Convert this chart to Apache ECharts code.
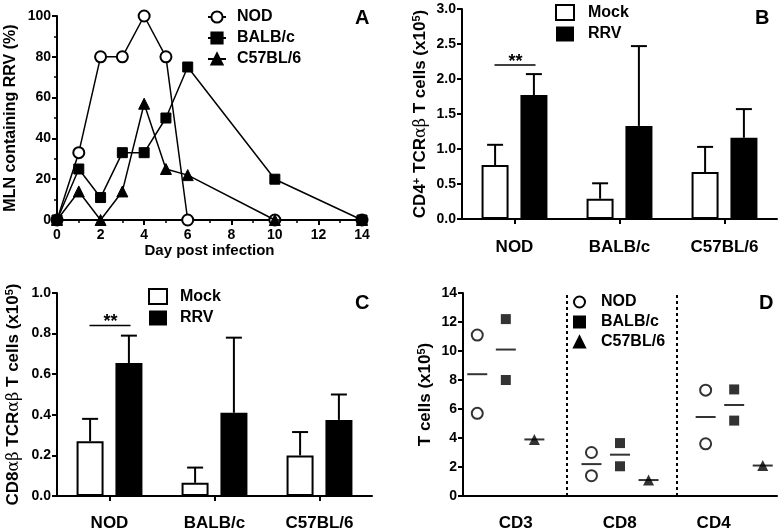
<!DOCTYPE html>
<html><head><meta charset="utf-8">
<script src="https://cdn.jsdelivr.net/npm/echarts@6/dist/echarts.min.js"></script>
<style>html,body{margin:0;padding:0;background:#fff}#c{width:782px;height:532px}</style>
</head><body><div id="c"></div>
<script>
// ---- Panel A data ----
const days = [0, 1, 2, 3, 4, 5, 6, 10, 14];
const nodA = [0, 33, 80, 80, 100, 80, 0, 0, 0];
const balbA = [0, 25, 11, 33, 33, 50, 75, 20, 0];
const c57A = [0, 14, 0, 14, 57, 25, 22, 0, 0];

// ---- Panel B / C data ----
const strains = ['NOD', 'BALB/c', 'C57BL/6'];
const cd4Mock = [0.77, 0.29, 0.67];
const cd4MockErr = [0.29, 0.22, 0.36];
const cd4Rrv = [1.77, 1.33, 1.16];
const cd4RrvErr = [0.30, 1.14, 0.41];
const sigB = [2.2];        // '**' level over NOD
const cd8Mock = [0.27, 0.065, 0.20];
const cd8MockErr = [0.11, 0.075, 0.115];
const cd8Rrv = [0.655, 0.41, 0.375];
const cd8RrvErr = [0.135, 0.37, 0.125];
const sigC = [0.84];

// ---- Panel D data ----
const subsets = ['CD3', 'CD8', 'CD4'];
const nodD = [[11.1, 5.7], [3.0, 1.4], [7.3, 3.6]];
const balbD = [[12.2, 8.0], [3.65, 2.05], [7.35, 5.2]];
const c57D = [[3.9], [1.1], [2.1]];

const FF = '"Liberation Sans", Arial, sans-serif';
const T = (s) => ({color: '#000', fontWeight: 'bold', fontFamily: FF, fontSize: s});
const axLine = {show: true, onZero: false, lineStyle: {color: '#000', width: 2}};
const axTick = {show: true, length: 5, lineStyle: {color: '#000', width: 2}};
const minor = {show: true, splitNumber: 2, length: 3, lineStyle: {color: '#000', width: 1.5}};
const rich = {
  b: {fontFamily: FF, fontWeight: 'bold', fontSize: 17, color: '#000', lineHeight: 19},
  g: {fontFamily: '"DejaVu Serif", "Liberation Serif", serif', fontSize: 16, color: '#000', lineHeight: 19},
  s: {fontFamily: FF, fontWeight: 'bold', fontSize: 11, color: '#000', verticalAlign: 'top', lineHeight: 19}
};

function errItem(offset) {
  return function (p, api) {
    const i = api.value(0), v = api.value(1), e = api.value(2);
    const a = api.coord([i, v]), b = api.coord([i, v + e]);
    const x = a[0] + offset;
    return {type: 'group', children: [
      {type: 'line', shape: {x1: x, y1: a[1], x2: x, y2: b[1]}, style: {stroke: '#000', lineWidth: 2}},
      {type: 'line', shape: {x1: x - 8, y1: b[1], x2: x + 8, y2: b[1]}, style: {stroke: '#000', lineWidth: 2}}
    ]};
  };
}
function sigItem(p, api) {
  const c = api.coord([api.value(0), api.value(1)]);
  return {type: 'group', children: [
    {type: 'line', shape: {x1: c[0] - 20, y1: c[1], x2: c[0] + 21, y2: c[1]}, style: {stroke: '#000', lineWidth: 1.5}},
    {type: 'text', x: c[0] + 1, y: c[1] + 6, style: {text: '**', font: 'bold 18px ' + FF, fill: '#000', align: 'center', verticalAlign: 'bottom'}}
  ]};
}

const barMock = {color: '#fff', borderColor: '#000', borderWidth: 2};
const barRrv = {color: '#000'};

const dPts = (arr, k) => {
  const out = [];
  arr.forEach((vals, g) => vals.forEach(v => out.push([g * 4 + k, v])));
  return out;
};
const dMeans = (arr, k) => arr.map((vals, g) => [g * 4 + k, vals.reduce((s, x) => s + x, 0) / vals.length]);
const dLabelPos = [2.35, 5.99, 9.28];

const option = {
  animation: false,
  backgroundColor: '#fff',
  title: [
    {text: 'A', left: 355, top: 8, padding: 0, textStyle: T(20)},
    {text: 'B', left: 755, top: 8, padding: 0, textStyle: T(20)},
    {text: 'C', left: 355, top: 293, padding: 0, textStyle: T(20)},
    {text: 'D', left: 759, top: 293, padding: 0, textStyle: T(20)}
  ],
  grid: [
    {left: 57, top: 16, width: 305, height: 204},
    {left: 462, top: 9, width: 315, height: 210},
    {left: 57, top: 293, width: 315, height: 210},
    {left: 463, top: 293, width: 314, height: 210}
  ],
  legend: [
    {orient: 'vertical', left: 207, top: 9, padding: 0, itemGap: 5, itemWidth: 18, itemHeight: 14,
      data: ['NOD', 'BALB/c', 'C57BL/6'], textStyle: Object.assign(T(16), {padding: [0, 0, 0, 6], lineHeight: 16})},
    {orient: 'vertical', left: 555, top: 4, padding: 0, itemGap: 5, itemWidth: 18, itemHeight: 15, icon: 'rect',
      data: ['Mock', 'RRV'], textStyle: Object.assign(T(16), {padding: [0, 0, 0, 9], lineHeight: 16})},
    {orient: 'vertical', left: 148, top: 288, padding: 0, itemGap: 5, itemWidth: 18, itemHeight: 15, icon: 'rect',
      data: ['Mock', 'RRV'], textStyle: Object.assign(T(16), {padding: [0, 0, 0, 8], lineHeight: 16})},
    {orient: 'vertical', left: 573, top: 294, padding: 0, itemGap: 4, itemWidth: 11, itemHeight: 11,
      data: [{name: 'NOD', icon: 'circle'}, {name: 'BALB/c', icon: 'rect'}, {name: 'C57BL/6', icon: 'triangle'}],
      textStyle: Object.assign(T(16), {padding: [0, 0, 0, 11], lineHeight: 16})}
  ],
  xAxis: [
    {gridIndex: 0, type: 'value', min: 0, max: 14, interval: 2, axisLine: axLine, axisTick: axTick, minorTick: minor,
      splitLine: {show: false}, axisLabel: Object.assign(T(14), {margin: 8}),
      name: 'Day post infection', nameLocation: 'middle', nameGap: 21, nameTextStyle: T(15)},
    {gridIndex: 1, type: 'category', data: strains, axisLine: axLine, axisTick: Object.assign({alignWithLabel: true}, axTick),
      axisLabel: Object.assign(T(17), {margin: 20})},
    {gridIndex: 2, type: 'category', data: strains, axisLine: axLine, axisTick: Object.assign({alignWithLabel: true}, axTick),
      axisLabel: Object.assign(T(17), {margin: 19})},
    {gridIndex: 3, type: 'value', min: 0.5, max: 11.5, axisLine: axLine, axisTick: {show: false}, splitLine: {show: false},
      axisLabel: Object.assign(T(17), {margin: 19, customValues: dLabelPos,
        formatter: (v) => subsets[dLabelPos.indexOf(v)] || ''})}
  ],
  yAxis: [
    {gridIndex: 0, type: 'value', min: 0, max: 100, interval: 20, axisLine: axLine, axisTick: axTick, minorTick: minor,
      splitLine: {show: false}, axisLabel: Object.assign(T(14), {margin: 6}),
      name: 'MLN containing RRV (%)', nameLocation: 'middle', nameGap: 38, nameTextStyle: T(16)},
    {gridIndex: 1, type: 'value', min: 0, max: 3, interval: 0.5, axisLine: axLine, axisTick: axTick, splitLine: {show: false},
      axisLabel: Object.assign(T(14), {margin: 6, formatter: v => v.toFixed(1)}),
      name: '{b|CD4}{s|+}{b| TCR}{g|αβ}{b| T cells (x10}{s|5}{b|)}', nameLocation: 'middle', nameGap: 32,
      nameTextStyle: {rich: rich}},
    {gridIndex: 2, type: 'value', min: 0, max: 1, interval: 0.2, axisLine: axLine, axisTick: axTick, splitLine: {show: false},
      axisLabel: Object.assign(T(14), {margin: 6, formatter: v => v.toFixed(1)}),
      name: '{b|CD8}{g|αβ}{b| TCR}{g|αβ}{b| T cells (x10}{s|5}{b|)}', nameLocation: 'middle', nameGap: 34,
      nameTextStyle: {rich: rich}},
    {gridIndex: 3, type: 'value', min: 0, max: 14, interval: 2, axisLine: axLine, axisTick: axTick, splitLine: {show: false},
      axisLabel: Object.assign(T(14), {margin: 6}),
      name: '{b|T cells (x10}{s|5}{b|)}', nameLocation: 'middle', nameGap: 28, nameTextStyle: {rich: rich}}
  ],
  series: [
    // Panel A
    {name: 'NOD', type: 'line', xAxisIndex: 0, yAxisIndex: 0, data: days.map((d, i) => [d, nodA[i]]), clip: false,
      symbol: 'circle', symbolSize: 11, lineStyle: {color: '#000', width: 1.5},
      itemStyle: {color: '#fff', borderColor: '#000', borderWidth: 2}, z: 3},
    {name: 'BALB/c', type: 'line', xAxisIndex: 0, yAxisIndex: 0, data: days.map((d, i) => [d, balbA[i]]), clip: false,
      symbol: 'rect', symbolSize: 10, lineStyle: {color: '#000', width: 1.5},
      itemStyle: {color: '#000', borderColor: '#000', borderWidth: 1}, z: 4},
    {name: 'C57BL/6', type: 'line', xAxisIndex: 0, yAxisIndex: 0, data: days.map((d, i) => [d, c57A[i]]), clip: false,
      symbol: 'triangle', symbolSize: 11, lineStyle: {color: '#000', width: 1.5},
      itemStyle: {color: '#000', borderColor: '#000', borderWidth: 1}, z: 5},
    // Panel B
    {name: 'Mock', type: 'bar', xAxisIndex: 1, yAxisIndex: 1, data: cd4Mock, barWidth: 27, barGap: '44%', itemStyle: barMock},
    {name: 'RRV', type: 'bar', xAxisIndex: 1, yAxisIndex: 1, data: cd4Rrv, barWidth: 27, barGap: '44%', itemStyle: barRrv},
    {type: 'custom', xAxisIndex: 1, yAxisIndex: 1, renderItem: errItem(-19.4), z: 5,
      data: strains.map((s, i) => [i, cd4Mock[i], cd4MockErr[i]])},
    {type: 'custom', xAxisIndex: 1, yAxisIndex: 1, renderItem: errItem(19.4), z: 5,
      data: strains.map((s, i) => [i, cd4Rrv[i], cd4RrvErr[i]])},
    {type: 'custom', xAxisIndex: 1, yAxisIndex: 1, renderItem: sigItem, z: 5, data: [[0, sigB[0]]]},
    // Panel C
    {name: 'Mock', type: 'bar', xAxisIndex: 2, yAxisIndex: 2, data: cd8Mock, barWidth: 27, barGap: '44%', itemStyle: barMock},
    {name: 'RRV', type: 'bar', xAxisIndex: 2, yAxisIndex: 2, data: cd8Rrv, barWidth: 27, barGap: '44%', itemStyle: barRrv},
    {type: 'custom', xAxisIndex: 2, yAxisIndex: 2, renderItem: errItem(-19.4), z: 5,
      data: strains.map((s, i) => [i, cd8Mock[i], cd8MockErr[i]])},
    {type: 'custom', xAxisIndex: 2, yAxisIndex: 2, renderItem: errItem(19.4), z: 5,
      data: strains.map((s, i) => [i, cd8Rrv[i], cd8RrvErr[i]])},
    {type: 'custom', xAxisIndex: 2, yAxisIndex: 2, renderItem: sigItem, z: 5, data: [[0, sigC[0]]]},
    // Panel D
    {name: 'NOD', type: 'scatter', xAxisIndex: 3, yAxisIndex: 3, data: dPts(nodD, 1), symbol: 'circle', symbolSize: 11,
      itemStyle: {color: '#fff', borderColor: '#000', borderWidth: 2},
      markLine: {silent: true, symbol: 'none', label: {show: false},
        lineStyle: {color: '#000', width: 2, type: [3, 3]}, data: [{xAxis: 4.15}, {xAxis: 8}]}},
    {name: 'BALB/c', type: 'scatter', xAxisIndex: 3, yAxisIndex: 3, data: dPts(balbD, 2), symbol: 'rect', symbolSize: 10,
      itemStyle: {color: '#000'}},
    {name: 'C57BL/6', type: 'scatter', xAxisIndex: 3, yAxisIndex: 3, data: dPts(c57D, 3), symbol: 'triangle', symbolSize: 11,
      itemStyle: {color: '#000'}},
    {type: 'scatter', xAxisIndex: 3, yAxisIndex: 3, symbol: 'rect', symbolSize: [20, 2], itemStyle: {color: '#000'}, z: 3,
      data: [].concat(dMeans(nodD, 1), dMeans(balbD, 2), dMeans(c57D, 3))}
  ]
};
const chart = echarts.init(document.getElementById('c'));
chart.setOption(option);
</script>
</body></html>
